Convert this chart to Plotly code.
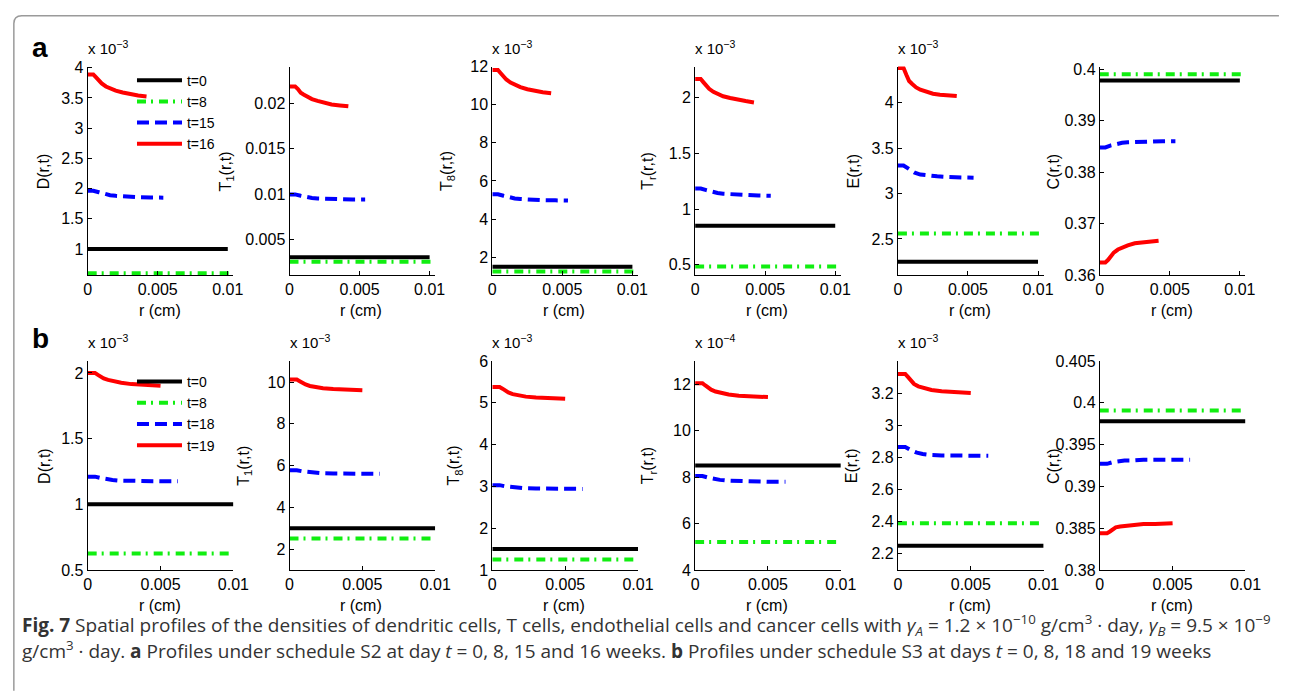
import plotly.graph_objects as go

W, H = 1290, 694
FONT = "Liberation Sans, Arial, sans-serif"
CAP_FONT = "Open Sans, sans-serif"

# ---------------- data ----------------
x_ticks = [0, 0.005, 0.01]
x_ticktext = ["0", "0.005", "0.01"]

# radial grids
r_red_a = [0, 0.0004, 0.0006, 0.0008, 0.001, 0.0013, 0.0016, 0.002, 0.0025, 0.003, 0.0036, 0.0042]
r_blue_a = [0, 0.0004, 0.0008, 0.0012, 0.0016, 0.002, 0.0028, 0.0036, 0.0045, 0.0054]
r_black_a = [0, 0.01]
r_green_a = [0, 0.0104]

r_red_b = [0, 0.0005, 0.0007, 0.0009, 0.0011, 0.0014, 0.0018, 0.0023, 0.003, 0.0038, 0.0044, 0.005]
r_blue_b = [0, 0.0005, 0.0009, 0.0013, 0.0017, 0.0022, 0.003, 0.004, 0.005, 0.0062]
r_black_b = [0, 0.01]
r_green_b = [0, 0.0099]

labels_a = ["t=0", "t=8", "t=15", "t=16"]
labels_b = ["t=0", "t=8", "t=18", "t=19"]

# row a values (scaled as displayed on each axis)
a_D_red = [3.89, 3.89, 3.84, 3.78, 3.74, 3.69, 3.66, 3.62, 3.59, 3.56, 3.54, 3.525]
a_D_blue = [1.965, 1.965, 1.94, 1.91, 1.89, 1.88, 1.865, 1.857, 1.852, 1.85]
a_D_black = [1.0, 1.0]
a_D_green = [0.6, 0.6]

a_T1_red = [0.0219, 0.0219, 0.0216, 0.0212, 0.021, 0.0207, 0.0205, 0.0203, 0.0201, 0.0199, 0.0198, 0.0197]
a_T1_blue = [0.00995, 0.00995, 0.0098, 0.00965, 0.00955, 0.0095, 0.00945, 0.00942, 0.0094, 0.0094]
a_T1_black = [0.003, 0.003]
a_T1_green = [0.0025, 0.0025]

a_T8_red = [11.82, 11.82, 11.65, 11.47, 11.32, 11.16, 11.04, 10.92, 10.81, 10.72, 10.65, 10.6]
a_T8_blue = [5.3, 5.3, 5.22, 5.14, 5.08, 5.05, 5.01, 4.99, 4.98, 4.97]
a_T8_black = [1.5, 1.5]
a_T8_green = [1.25, 1.25]

a_Tr_red = [2.168, 2.168, 2.138, 2.106, 2.08, 2.053, 2.035, 2.013, 1.997, 1.982, 1.97, 1.958]
a_Tr_blue = [1.185, 1.185, 1.17, 1.155, 1.145, 1.138, 1.13, 1.125, 1.122, 1.12]
a_Tr_black = [0.85, 0.85]
a_Tr_green = [0.485, 0.485]

a_E_red = [4.385, 4.385, 4.31, 4.24, 4.21, 4.17, 4.145, 4.12, 4.1, 4.09, 4.08, 4.075]
a_E_blue = [3.31, 3.31, 3.27, 3.23, 3.21, 3.2, 3.19, 3.182, 3.178, 3.175]
a_E_black = [2.25, 2.25]
a_E_green = [2.56, 2.56]

a_C_red = [0.3625, 0.3625, 0.363, 0.3638, 0.3644, 0.365, 0.3654, 0.3658, 0.3662, 0.3664, 0.3666, 0.3667]
a_C_blue = [0.3848, 0.3848, 0.3852, 0.3855, 0.3857, 0.3858, 0.3859, 0.386, 0.386, 0.386]
a_C_black = [0.3978, 0.3978]
a_C_green = [0.399, 0.399]

# row b values
b_D_red = [2.0, 2.0, 1.985, 1.97, 1.958, 1.947, 1.935, 1.925, 1.915, 1.908, 1.904, 1.902]
b_D_blue = [1.21, 1.21, 1.2, 1.19, 1.185, 1.18, 1.177, 1.175, 1.175, 1.175]
b_D_black = [1.0, 1.0]
b_D_green = [0.625, 0.625]

b_T1_red = [10.12, 10.12, 10.04, 9.95, 9.88, 9.81, 9.75, 9.7, 9.66, 9.63, 9.62, 9.61]
b_T1_blue = [5.77, 5.77, 5.72, 5.68, 5.65, 5.63, 5.62, 5.61, 5.6, 5.6]
b_T1_black = [3.0, 3.0]
b_T1_green = [2.5, 2.5]

b_T8_red = [5.38, 5.38, 5.34, 5.29, 5.25, 5.21, 5.18, 5.15, 5.13, 5.11, 5.1, 5.1]
b_T8_blue = [3.03, 3.03, 3.0, 2.98, 2.965, 2.955, 2.95, 2.945, 2.94, 2.94]
b_T8_black = [1.5, 1.5]
b_T8_green = [1.25, 1.25]

b_Tr_red = [12.05, 12.05, 11.95, 11.85, 11.77, 11.69, 11.62, 11.56, 11.51, 11.48, 11.46, 11.45]
b_Tr_blue = [8.05, 8.05, 7.98, 7.92, 7.88, 7.85, 7.83, 7.81, 7.8, 7.8]
b_Tr_black = [8.5, 8.5]
b_Tr_green = [5.2, 5.2]

b_E_red = [3.32, 3.32, 3.3, 3.275, 3.258, 3.243, 3.23, 3.22, 3.212, 3.206, 3.204, 3.202]
b_E_blue = [2.865, 2.865, 2.845, 2.83, 2.822, 2.816, 2.813, 2.811, 2.81, 2.81]
b_E_black = [2.25, 2.25]
b_E_green = [2.39, 2.39]

b_C_red = [0.3844, 0.3844, 0.3846, 0.3849, 0.3851, 0.3852, 0.3853, 0.3854, 0.3855, 0.3855, 0.3855, 0.3856]
b_C_blue = [0.3927, 0.3927, 0.3929, 0.393, 0.3931, 0.3931, 0.3932, 0.3932, 0.3932, 0.3932]
b_C_black = [0.3978, 0.3978]
b_C_green = [0.3991, 0.3991]

# axis settings
y_titles = ["D(r,t)", "T<sub>1</sub>(r,t)", "T<sub>8</sub>(r,t)", "T<sub>r</sub>(r,t)", "E(r,t)", "C(r,t)"]

a_yranges = [[0.565, 4.02], [0.001, 0.0241], [1.05, 12.0], [0.406, 2.28], [2.1, 4.4], [0.36, 0.4005]]
a_yticks = [[1, 1.5, 2, 2.5, 3, 3.5, 4], [0.005, 0.01, 0.015, 0.02], [2, 4, 6, 8, 10, 12],
            [0.5, 1, 1.5, 2], [2.5, 3, 3.5, 4], [0.36, 0.37, 0.38, 0.39, 0.4]]
a_yticktext = [["1", "1.5", "2", "2.5", "3", "3.5", "4"], ["0.005", "0.01", "0.015", "0.02"],
               ["2", "4", "6", "8", "10", "12"], ["0.5", "1", "1.5", "2"], ["2.5", "3", "3.5", "4"],
               ["0.36", "0.37", "0.38", "0.39", "0.4"]]
a_exp = ["−3", None, "−3", "−3", "−3", None]

b_yranges = [[0.5, 2.09], [1, 11], [1, 6], [4, 13], [2.1, 3.4], [0.38, 0.405]]
b_yticks = [[0.5, 1, 1.5, 2], [2, 4, 6, 8, 10], [1, 2, 3, 4, 5, 6], [4, 6, 8, 10, 12],
            [2.2, 2.4, 2.6, 2.8, 3, 3.2], [0.38, 0.385, 0.39, 0.395, 0.4, 0.405]]
b_yticktext = [["0.5", "1", "1.5", "2"], ["2", "4", "6", "8", "10"], ["1", "2", "3", "4", "5", "6"],
               ["4", "6", "8", "10", "12"], ["2.2", "2.4", "2.6", "2.8", "3", "3.2"],
               ["0.38", "0.385", "0.39", "0.395", "0.4", "0.405"]]
b_exp = ["−3", "−3", "−3", "−4", "−3", None]

# ---------------- layout helpers ----------------
panel_left = [85, 290, 496, 702, 908, 1113]
panel_w = 148
row_top = [60, 362]
row_h = 214
ytitle_x = [[41, 226, 451, 655, 863, 1066], [41, 244, 458, 655, 861, 1066]]


def px(x):
    return x / W


def py(y):
    return 1 - y / H


styles = [
    dict(color="black", width=4, dash="solid"),
    dict(color="#11ee11", width=4, dash="9px,5px,2px,6px"),
    dict(color="#0000ff", width=4, dash="12px,6px"),
    dict(color="#ff0000", width=4, dash="solid"),
]

rows = [
    dict(r=[r_black_a, r_green_a, r_blue_a, r_red_a], labels=labels_a, xmax=0.0104,
         data=[[a_D_black, a_D_green, a_D_blue, a_D_red],
               [a_T1_black, a_T1_green, a_T1_blue, a_T1_red],
               [a_T8_black, a_T8_green, a_T8_blue, a_T8_red],
               [a_Tr_black, a_Tr_green, a_Tr_blue, a_Tr_red],
               [a_E_black, a_E_green, a_E_blue, a_E_red],
               [a_C_black, a_C_green, a_C_blue, a_C_red]],
         yr=a_yranges, yt=a_yticks, ytt=a_yticktext, exp=a_exp, legend="legend"),
    dict(r=[r_black_b, r_green_b, r_blue_b, r_red_b], labels=labels_b, xmax=0.01,
         data=[[b_D_black, b_D_green, b_D_blue, b_D_red],
               [b_T1_black, b_T1_green, b_T1_blue, b_T1_red],
               [b_T8_black, b_T8_green, b_T8_blue, b_T8_red],
               [b_Tr_black, b_Tr_green, b_Tr_blue, b_Tr_red],
               [b_E_black, b_E_green, b_E_blue, b_E_red],
               [b_C_black, b_C_green, b_C_blue, b_C_red]],
         yr=b_yranges, yt=b_yticks, ytt=b_yticktext, exp=b_exp, legend="legend2"),
]

fig = go.Figure()
layout = {}
annotations = []

for ri, row in enumerate(rows):
    top = row_top[ri]
    for ci in range(6):
        idx = ri * 6 + ci + 1
        xs = "" if idx == 1 else str(idx)
        left = panel_left[ci]
        for si in range(4):
            fig.add_trace(go.Scatter(
                x=row["r"][si], y=row["data"][ci][si], mode="lines",
                line=styles[si], name=row["labels"][si],
                xaxis="x" + xs, yaxis="y" + xs,
                showlegend=(ci == 0), legend=row["legend"],
                hoverinfo="skip",
            ))
        common = dict(showline=True, linecolor="black", linewidth=1, ticks="inside",
                      ticklen=4, tickcolor="black", showgrid=False, zeroline=False,
                      tickfont=dict(family=FONT, size=16, color="black"), fixedrange=True)
        layout["xaxis" + xs] = dict(domain=[px(left), px(left + panel_w)], anchor="y" + xs,
                                    range=[0, row["xmax"]], tickvals=x_ticks,
                                    ticktext=x_ticktext, **common)
        layout["yaxis" + xs] = dict(domain=[py(top + row_h), py(top)], anchor="x" + xs,
                                    range=row["yr"][ci], tickvals=row["yt"][ci],
                                    ticktext=row["ytt"][ci], **common)
        # y-axis title
        annotations.append(dict(x=px(ytitle_x[ri][ci]), y=py(top + row_h / 2), xref="paper",
                                yref="paper", text=y_titles[ci], textangle=-90, showarrow=False,
                                xanchor="center", yanchor="middle",
                                font=dict(family=FONT, size=16, color="black")))
        # x-axis title
        annotations.append(dict(x=px(left + panel_w / 2 - 1), y=py(top + row_h + 36), xref="paper",
                                yref="paper", text="r (cm)", showarrow=False,
                                xanchor="center", yanchor="middle",
                                font=dict(family=FONT, size=16, color="black")))
        # exponent multiplier
        if row["exp"][ci]:
            annotations.append(dict(x=px(left - 2), y=py(top - 8), xref="paper", yref="paper",
                                    text="x 10<sup>" + row["exp"][ci] + "</sup>", showarrow=False,
                                    xanchor="left", yanchor="bottom",
                                    font=dict(family=FONT, size=15, color="black")))

# panel letters
annotations.append(dict(x=px(26), y=py(40), xref="paper", yref="paper", text="<b>a</b>",
                        showarrow=False, xanchor="left", yanchor="middle",
                        font=dict(family=FONT, size=28, color="black")))
annotations.append(dict(x=px(26), y=py(339), xref="paper", yref="paper", text="<b>b</b>",
                        showarrow=False, xanchor="left", yanchor="middle",
                        font=dict(family=FONT, size=28, color="black")))

# caption
cap1 = ("<b>Fig. 7</b> Spatial profiles of the densities of dendritic cells, T cells, endothelial cells "
        "and cancer cells with <i>γ<sub>A</sub></i> = 1.2 × 10<sup>−10</sup> g/cm<sup>3</sup> · day, "
        "<i>γ<sub>B</sub></i> = 9.5 × 10<sup>−9</sup>")
cap2 = ("g/cm<sup>3</sup> · day. <b>a</b> Profiles under schedule S2 at day <i>t</i> = 0, 8, 15 and 16 weeks. "
        "<b>b</b> Profiles under schedule S3 at days <i>t</i> = 0, 8, 18 and 19 weeks")
annotations.append(dict(x=px(16), y=py(633), xref="paper", yref="paper", text=cap1,
                        showarrow=False, xanchor="left", yanchor="middle",
                        font=dict(family=CAP_FONT, size=19, color="#333333")))
annotations.append(dict(x=px(16), y=py(658), xref="paper", yref="paper", text=cap2,
                        showarrow=False, xanchor="left", yanchor="middle",
                        font=dict(family=CAP_FONT, size=19, color="#333333")))

legend_common = dict(xanchor="left", yanchor="top", bgcolor="rgba(0,0,0,0)", borderwidth=0,
                     font=dict(family=FONT, size=14, color="black"), tracegroupgap=0,
                     itemwidth=45, itemclick=False, itemdoubleclick=False)

# outer frame: left and top edges with a rounded corner
frame_path = "M {x0},{yb} L {x0},{yc} Q {x0},{yt} {xc},{yt} L {xr},{yt}".format(
    x0=px(10), yb=py(700), yc=py(16), yt=py(8), xc=px(18), xr=px(1295))

fig.update_layout(
    width=W, height=H, autosize=False,
    margin=dict(l=0, r=0, t=0, b=0),
    paper_bgcolor="white", plot_bgcolor="white",
    annotations=annotations,
    legend=dict(x=px(130), y=py(58), **legend_common),
    legend2=dict(x=px(130), y=py(367), **legend_common),
    shapes=[dict(type="path", xref="paper", yref="paper", path=frame_path,
                 line=dict(color="#9a9a9a", width=1.5), layer="below")],
    **layout,
)

fig.write_html("out.html", config={"displayModeBar": False, "staticPlot": True},
               post_script="document.body.style.margin='0';document.body.style.overflow='hidden';")
